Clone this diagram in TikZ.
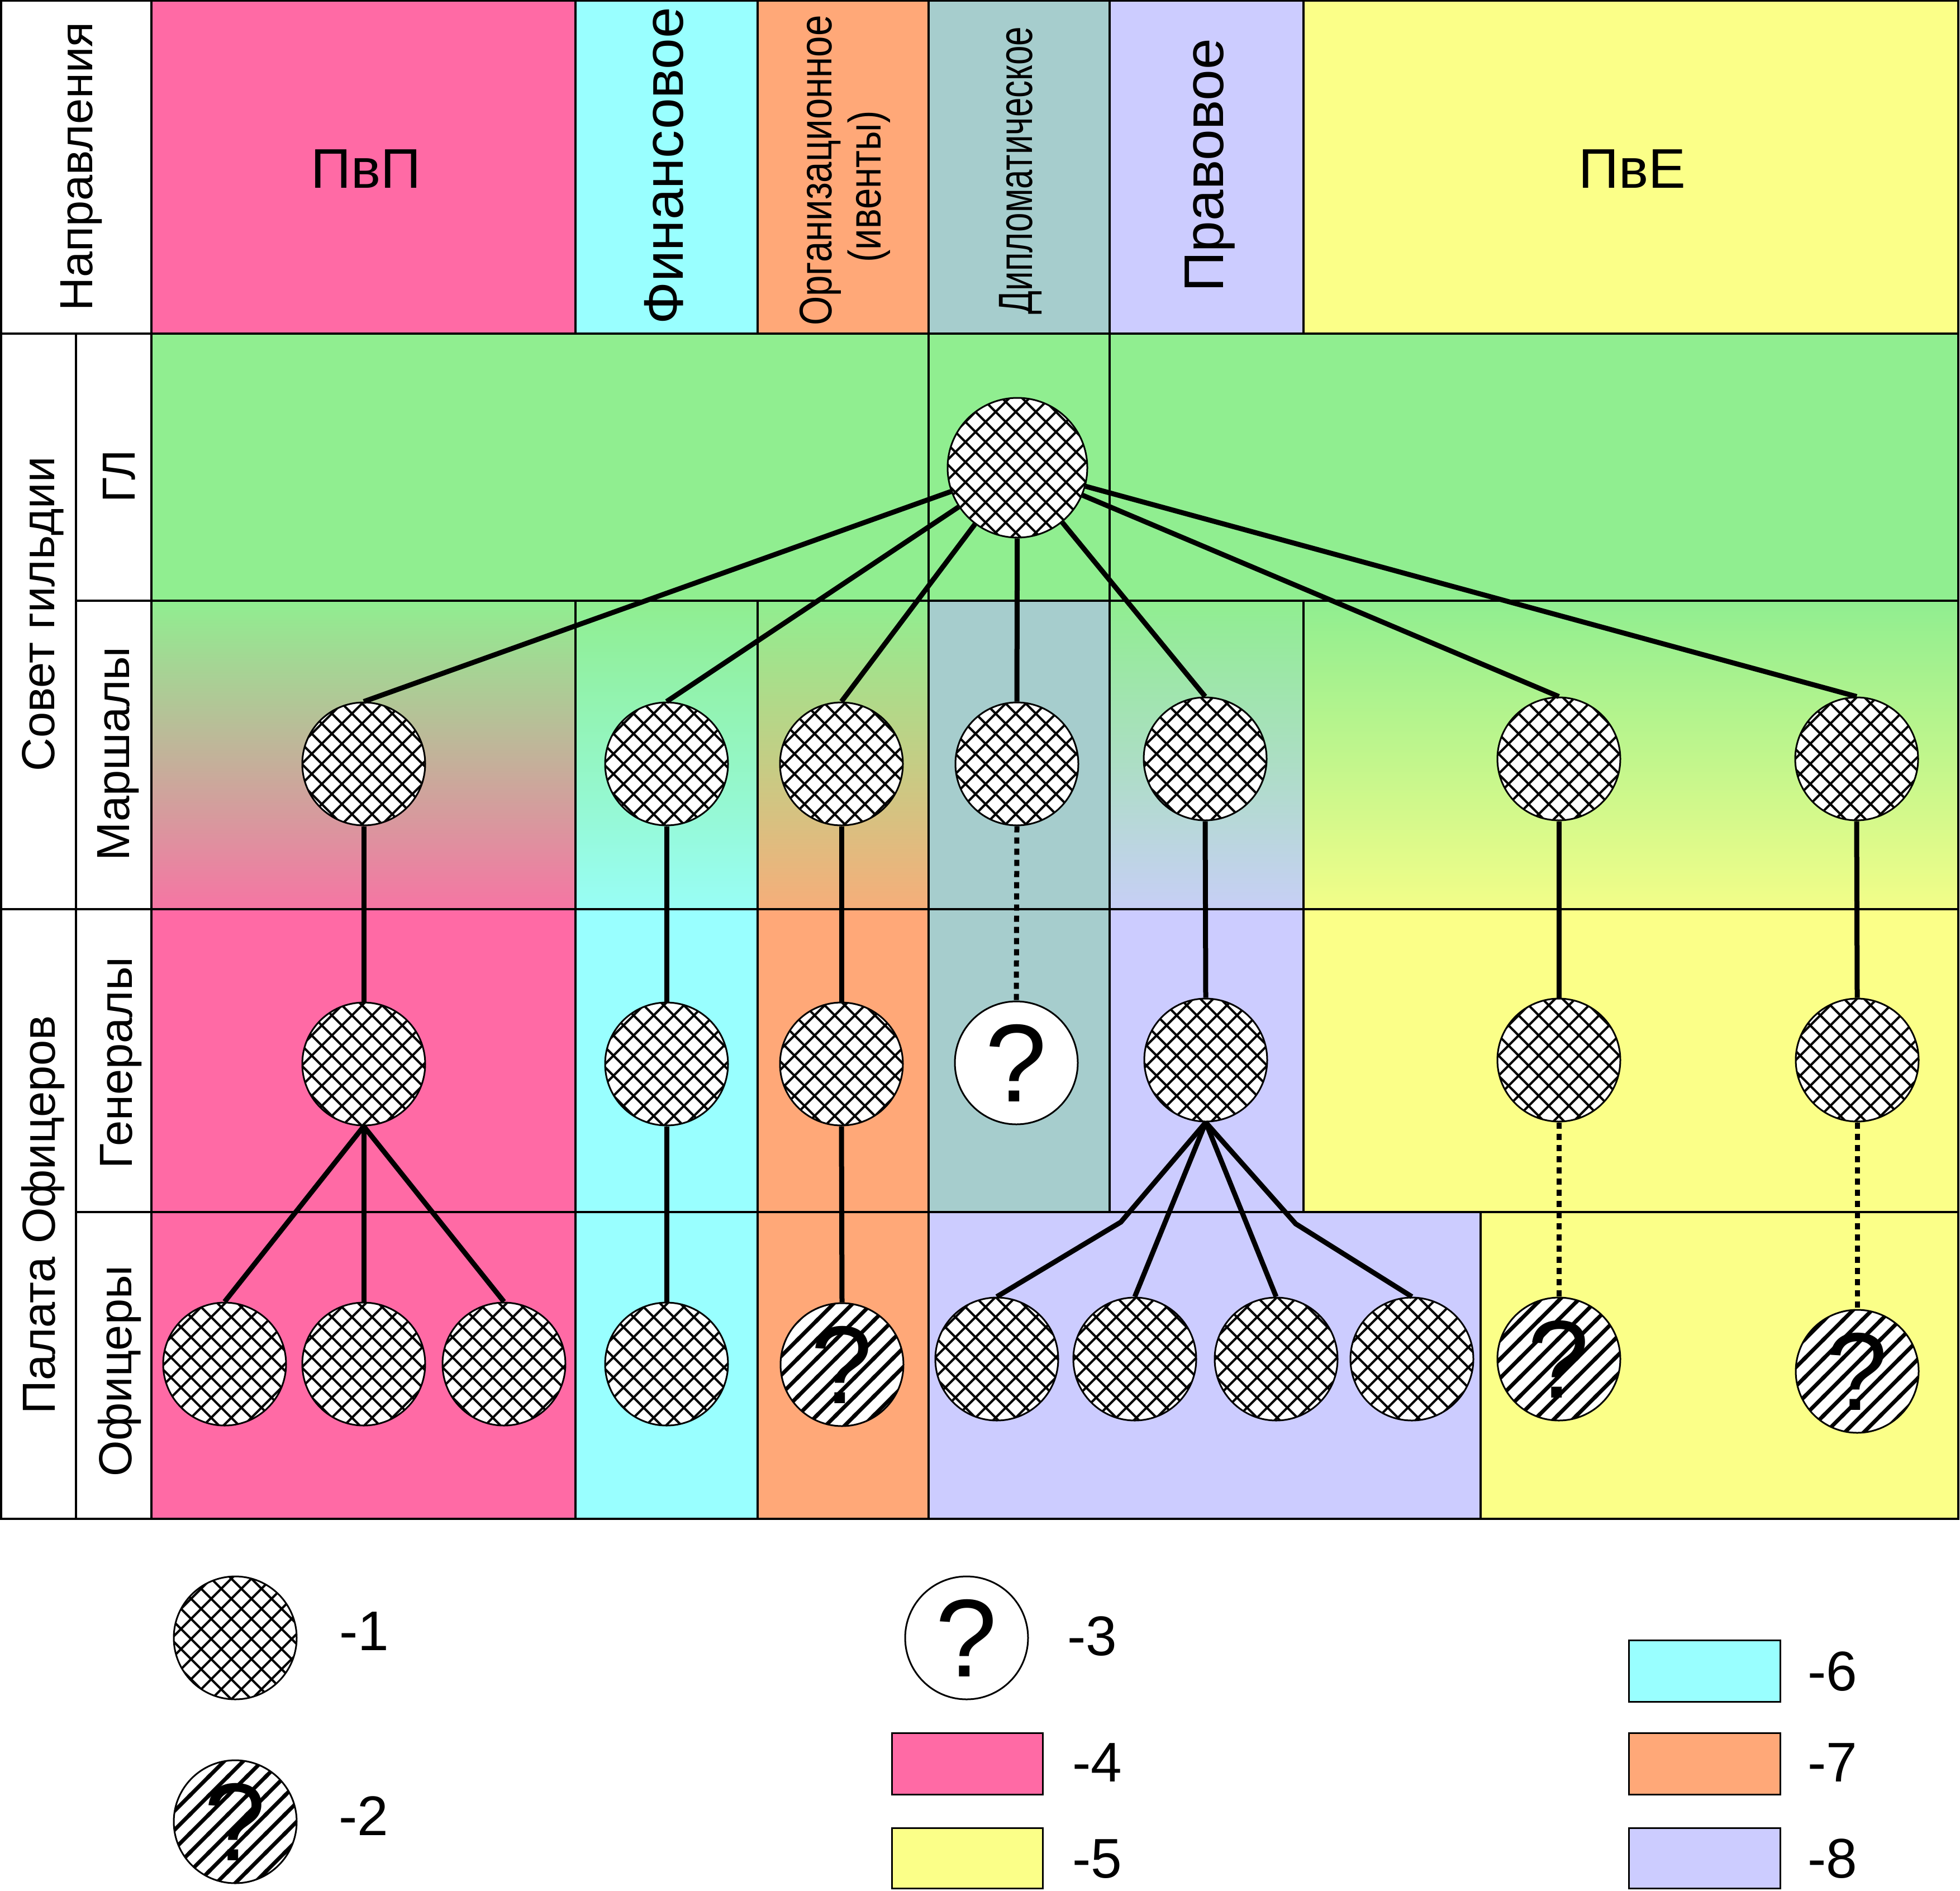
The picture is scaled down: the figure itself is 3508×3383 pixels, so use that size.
\documentclass[tikz,border=0pt]{standalone}
\usepackage{fontspec}
\setmainfont{Liberation Sans}
\newfontfamily\condA[FakeStretch=0.82]{Liberation Sans}
\newfontfamily\condB[FakeStretch=0.72]{Liberation Sans}
\usetikzlibrary{patterns}
\newcommand{\myfs}[1]{\fontsize{#1}{#1}\selectfont}
\pgfdeclarepatternformonly{bigcross}{\pgfqpoint{-3pt}{-3pt}}{\pgfqpoint{39pt}{39pt}}{\pgfqpoint{36pt}{36pt}}{%
  \pgfsetlinewidth{4pt}%
  \pgfpathmoveto{\pgfqpoint{-1pt}{-1pt}}\pgfpathlineto{\pgfqpoint{37pt}{37pt}}%
  \pgfpathmoveto{\pgfqpoint{-1pt}{37pt}}\pgfpathlineto{\pgfqpoint{37pt}{-1pt}}%
  \pgfusepath{stroke}}
\pgfdeclarepatternformonly{bigstripes}{\pgfqpoint{-5pt}{-5pt}}{\pgfqpoint{39pt}{39pt}}{\pgfqpoint{34pt}{34pt}}{%
  \pgfsetlinewidth{7pt}%
  \pgfpathmoveto{\pgfqpoint{-3pt}{-3pt}}\pgfpathlineto{\pgfqpoint{37pt}{37pt}}%
  \pgfusepath{stroke}}
\definecolor{cPink}{HTML}{FF6AA5}
\definecolor{cCyan}{HTML}{99FFFF}
\definecolor{cOrange}{HTML}{FFA878}
\definecolor{cTeal}{HTML}{A6CDCD}
\definecolor{cLav}{HTML}{CCCCFF}
\definecolor{cYellow}{HTML}{FBFF88}
\definecolor{cGreen}{HTML}{90EE90}
\tikzset{
  gridline/.style={line width=3.5pt, line cap=rect},
  conn/.style={line width=9pt},
  dotconn/.style={line width=9pt, dash pattern=on 11pt off 9pt},
  member/.style={circle, draw=black, line width=3pt, minimum size=220pt, inner sep=0pt, preaction={fill=white}, pattern=bigcross},
  unknown/.style={circle, draw=black, line width=3pt, minimum size=220pt, inner sep=0pt, fill=white, font=\myfs{198}},
  striped/.style={circle, draw=black, line width=3pt, minimum size=220pt, inner sep=0pt, preaction={fill=white}, pattern=bigstripes, font=\myfs{198}},
  vlbl/.style={inner sep=0pt, anchor=base, rotate=90},
  hlbl/.style={inner sep=0pt, anchor=base},
  leglbl/.style={inner sep=0pt, anchor=base west, font=\myfs{100}},
  legbox/.style={draw=black, line width=3pt},
  grad/.style={top color=cGreen, bottom color=#1!92!cGreen, middle color=cGreen!55!#1},
}
\begin{document}
\begin{tikzpicture}[x=1pt,y=-1pt]
\useasboundingbox (0,0) rectangle (3508,3383);
\fill[white] (0,0) rectangle (3508,3383);
% header row
\fill[cPink] (271,0) rectangle (1030,597);
\fill[cCyan] (1030,0) rectangle (1356,597);
\fill[cOrange] (1356,0) rectangle (1662,597);
\fill[cTeal] (1662,0) rectangle (1986,597);
\fill[cLav] (1986,0) rectangle (2333,597);
\fill[cYellow] (2333,0) rectangle (3505,597);
% GL row
\fill[cGreen] (271,597) rectangle (3505,1075);
% marshals row
\shade[grad=cPink] (271,1075) rectangle (1030,1627);
\shade[grad=cCyan] (1030,1075) rectangle (1356,1627);
\shade[grad=cOrange] (1356,1075) rectangle (1662,1627);
\fill[cTeal] (1662,1075) rectangle (1986,1627);
\shade[grad=cLav] (1986,1075) rectangle (2333,1627);
\shade[grad=cYellow] (2333,1075) rectangle (3505,1627);
% generals row
\fill[cPink] (271,1627) rectangle (1030,2169);
\fill[cCyan] (1030,1627) rectangle (1356,2169);
\fill[cOrange] (1356,1627) rectangle (1662,2169);
\fill[cTeal] (1662,1627) rectangle (1986,2169);
\fill[cLav] (1986,1627) rectangle (2333,2169);
\fill[cYellow] (2333,1627) rectangle (3505,2169);
% officers row
\fill[cPink] (271,2169) rectangle (1030,2718);
\fill[cCyan] (1030,2169) rectangle (1356,2718);
\fill[cOrange] (1356,2169) rectangle (1662,2718);
\fill[cLav] (1662,2169) rectangle (2650,2718);
\fill[cYellow] (2650,2169) rectangle (3505,2718);
% grid
\draw[gridline] (1.75,1.75) rectangle (3505,2718);
\draw[gridline] (0,597) -- (3505,597);
\draw[gridline] (136,1075) -- (3505,1075);
\draw[gridline] (0,1627) -- (3505,1627);
\draw[gridline] (136,2169) -- (3505,2169);
\draw[gridline] (136,597) -- (136,2718);
\draw[gridline] (271,0) -- (271,2718);
\draw[gridline] (1030,0) -- (1030,597);
\draw[gridline] (1030,1075) -- (1030,2718);
\draw[gridline] (1356,0) -- (1356,597);
\draw[gridline] (1356,1075) -- (1356,2718);
\draw[gridline] (1662,0) -- (1662,2718);
\draw[gridline] (1986,0) -- (1986,2169);
\draw[gridline] (2333,0) -- (2333,597);
\draw[gridline] (2333,1075) -- (2333,2169);
\draw[gridline] (2650,2169) -- (2650,2718);
% header labels
\node[vlbl, font=\myfs{83}] (hNapr) at (165,298) {Направления};
\node[hlbl, font=\myfs{100}] (hPvP) at (655,336) {ПвП};
\node[vlbl, font=\myfs{100}] (hFin) at (1222,297) {Финансовое};
\node[vlbl, font=\condA\myfs{82}] (hOrg) at (1488,305) {Организационное};
\node[vlbl, font=\condA\myfs{82}] (hOrg2) at (1576,334) {(ивенты)};
\node[vlbl, font=\condB\myfs{86}] (hDip) at (1847,305) {Дипломатическое};
\node[vlbl, font=\myfs{100}] (hPrav) at (2189,296) {Правовое};
\node[hlbl, font=\myfs{100}] (hPvE) at (2921,336) {ПвЕ};
% row labels
\node[vlbl, font=\myfs{83}] (rSovet) at (97,1099) {Совет гильдии};
\node[vlbl, font=\myfs{83}] (rGL) at (241,852) {ГЛ};
\node[vlbl, font=\myfs{83}] (rMarsh) at (231,1349) {Маршалы};
\node[vlbl, font=\myfs{83}] (rPalata) at (98,2174) {Палата Офицеров};
\node[vlbl, font=\myfs{83}] (rGen) at (236,1902) {Генералы};
\node[vlbl, font=\myfs{83}] (rOff) at (235,2454) {Офицеры};
% members
\node[member, minimum size=250pt] (gl) at (1821,837) {};
\node[member] (m1) at (651,1367) {};
\node[member] (m2) at (1193,1367) {};
\node[member] (m3) at (1506,1367) {};
\node[member] (m4) at (1820,1367) {};
\node[member] (m5) at (2157,1358) {};
\node[member] (m6) at (2790,1358) {};
\node[member] (m7) at (3323,1358) {};
\node[member] (g1) at (651,1904) {};
\node[member] (g2) at (1193,1904) {};
\node[member] (g3) at (1506,1904) {};
\node[unknown] (g4) at (1819,1902) {?};
\node[member] (g5) at (2158,1897) {};
\node[member] (g6) at (2790,1897) {};
\node[member] (g7) at (3324,1897) {};
\node[member] (o1) at (402,2441) {};
\node[member] (o2) at (651,2441) {};
\node[member] (o3) at (902,2441) {};
\node[member] (o4) at (1193,2441) {};
\node[striped] (o5) at (1507,2442) {?};
\node[member] (o6) at (1784,2432) {};
\node[member] (o7) at (2031,2432) {};
\node[member] (o8) at (2284,2432) {};
\node[member] (o9) at (2527,2432) {};
\node[striped] (o10) at (2790,2432) {?};
\node[striped] (o11) at (3324,2454) {?};
\coordinate (k1) at (2006,2187);
\coordinate (k2) at (2319,2190);
% connectors
\foreach \m in {m1,m2,m3,m4,m5,m6,m7} {\draw[conn] (gl) -- (\m.north);}
\draw[conn] (m1.south) -- (g1.north);
\draw[conn] (m2.south) -- (g2.north);
\draw[conn] (m3.south) -- (g3.north);
\draw[dotconn] (m4.south) -- (g4.north);
\draw[conn] (m5.south) -- (g5.north);
\draw[conn] (m6.south) -- (g6.north);
\draw[conn] (m7.south) -- (g7.north);
\draw[conn] (g1.south) -- (o1.north);
\draw[conn] (g1.south) -- (o2.north);
\draw[conn] (g1.south) -- (o3.north);
\draw[conn] (g2.south) -- (o4.north);
\draw[conn] (g3.south) -- (o5.north);
\draw[conn] (g5.south) -- (k1) -- (o6.north);
\draw[conn] (g5.south) -- (o7.north);
\draw[conn] (g5.south) -- (o8.north);
\draw[conn] (g5.south) -- (k2) -- (o9.north);
\draw[dotconn] (g6.south) -- (o10.north);
\draw[dotconn] (g7.south) -- (o11.north);
% legend
\node[member] (l1) at (421,2931) {};
\node[striped] (l2) at (421,3260) {?};
\node[unknown] (l3) at (1730,2931) {?};
\node[leglbl] (t1) at (607,2953) {-1};
\node[leglbl] (t2) at (606,3284) {-2};
\node[leglbl] (t3) at (1910,2962) {-3};
\draw[legbox, fill=cPink] (1596,3101) rectangle (1866,3211);
\node[leglbl] (t4) at (1919,3188) {-4};
\draw[legbox, fill=cYellow] (1596,3271) rectangle (1866,3379);
\node[leglbl] (t5) at (1919,3360) {-5};
\draw[legbox, fill=cCyan] (2915,2935) rectangle (3186,3045);
\node[leglbl] (t6) at (3235,3025) {-6};
\draw[legbox, fill=cOrange] (2915,3101) rectangle (3186,3211);
\node[leglbl] (t7) at (3235,3188) {-7};
\draw[legbox, fill=cLav] (2915,3271) rectangle (3186,3379);
\node[leglbl] (t8) at (3235,3360) {-8};
\end{tikzpicture}
\end{document}
